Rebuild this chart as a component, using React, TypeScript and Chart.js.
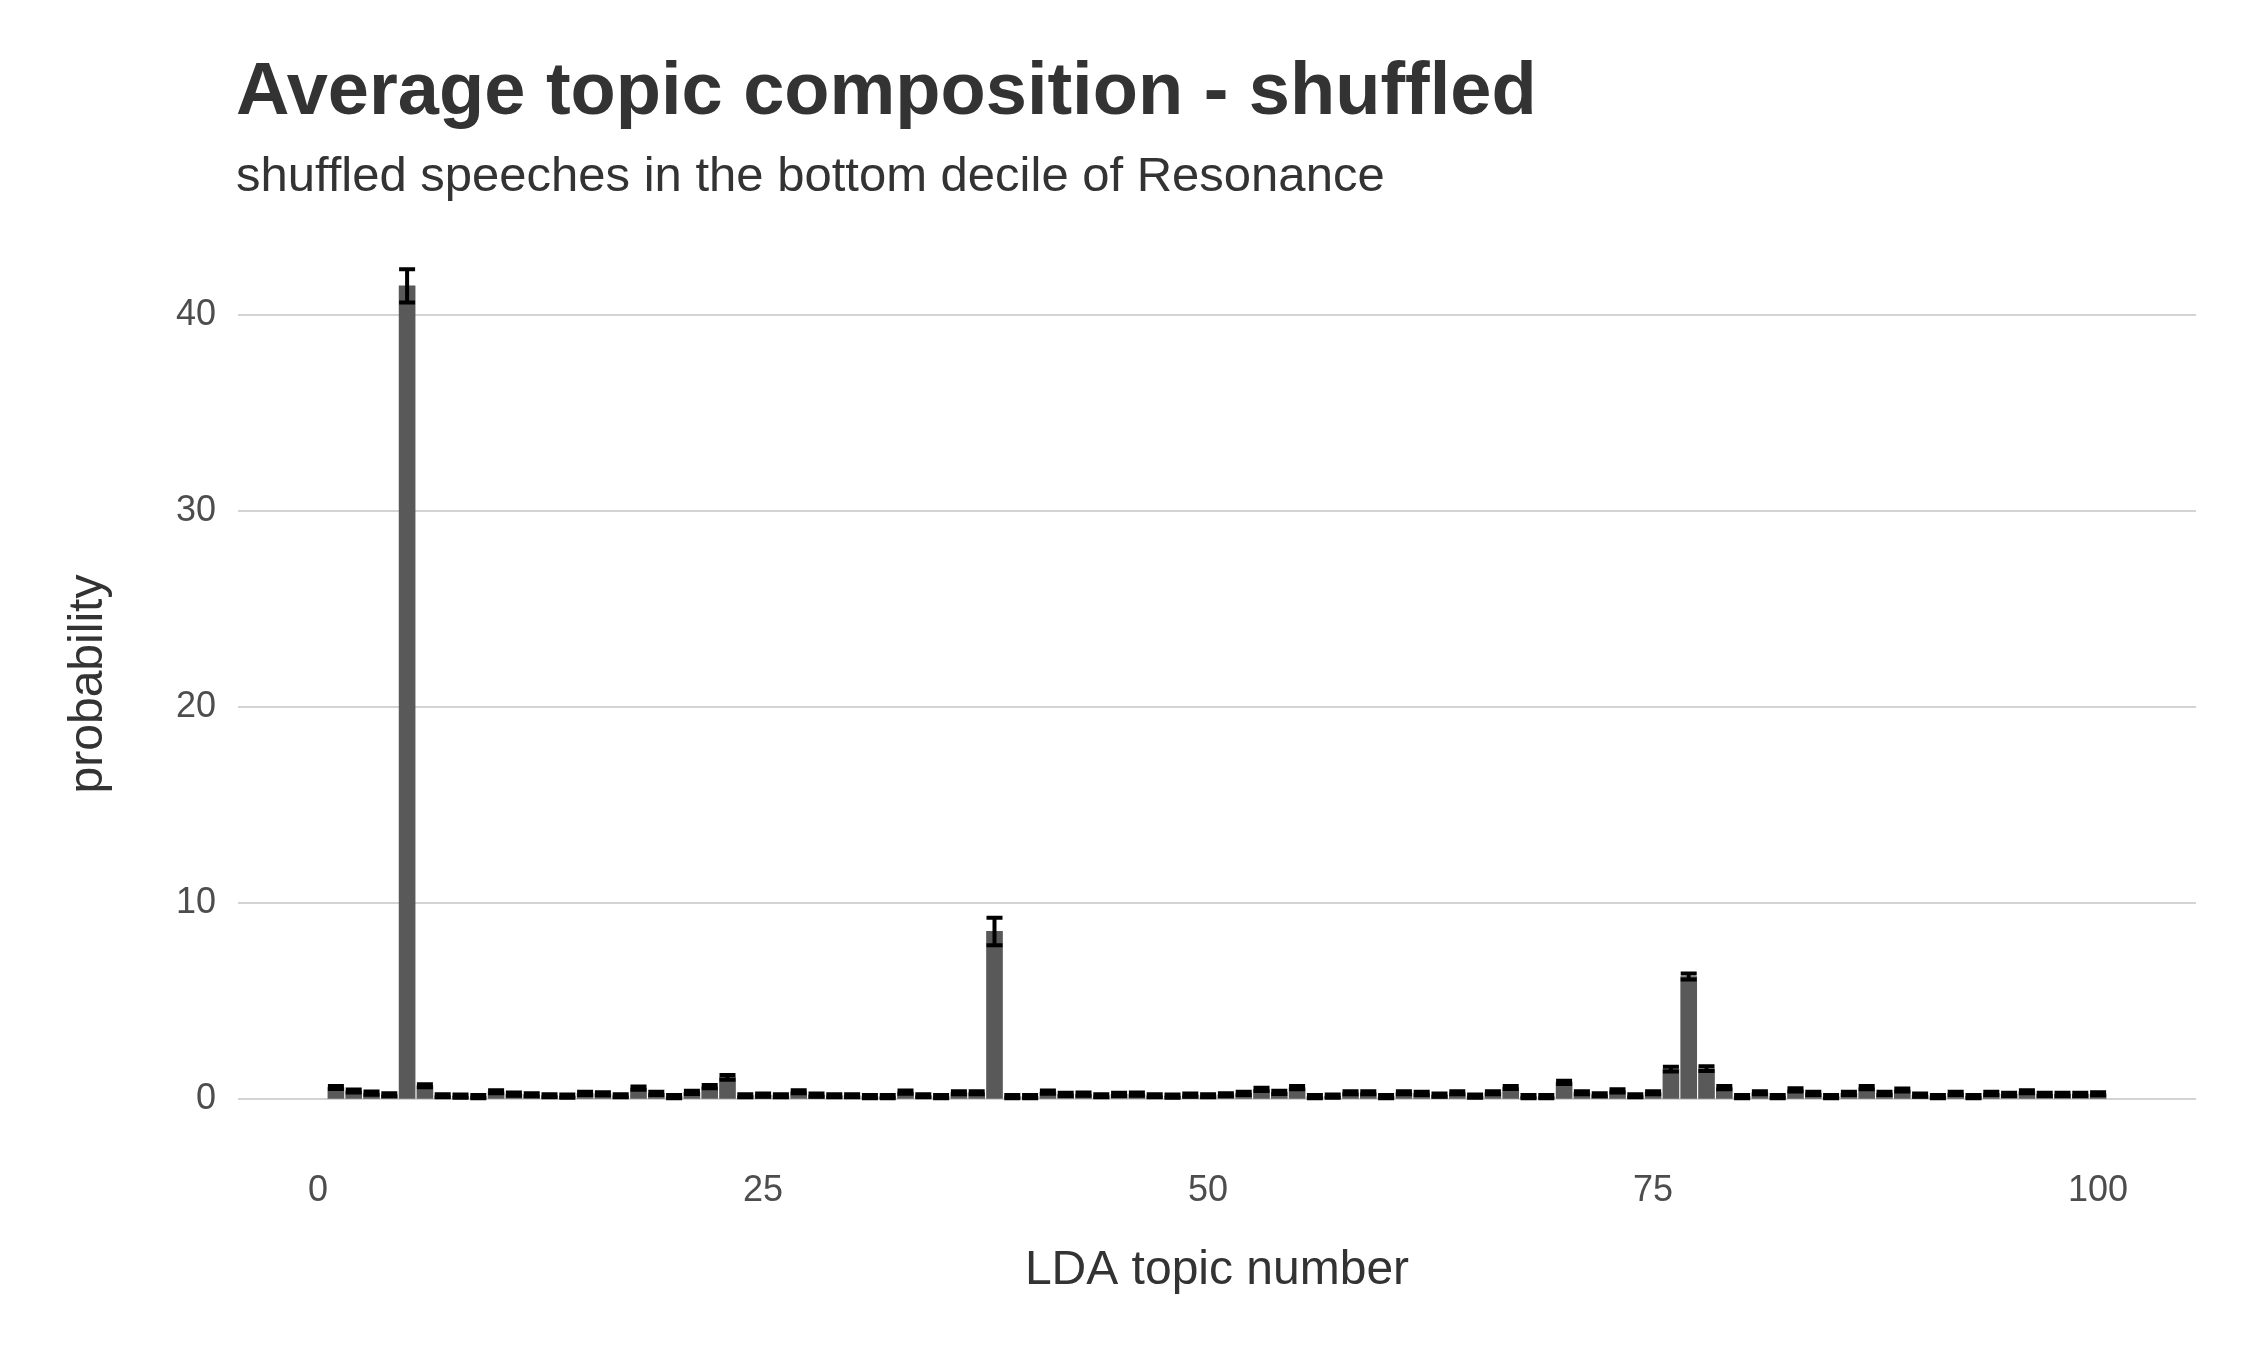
import React, { useEffect, useRef } from "react";
import { Chart, registerables } from "chart.js";
Chart.register(...registerables);

const topics: number[] = Array.from({ length: 100 }, (_, i) => i + 1);
const probability: number[] = [
  0.61, 0.43, 0.32, 0.24, 41.5, 0.70, 0.19, 0.17, 0.14, 0.39,
  0.27, 0.24, 0.19, 0.17, 0.31, 0.29, 0.19, 0.58, 0.31, 0.14,
  0.36, 0.65, 1.13, 0.19, 0.22, 0.19, 0.39, 0.22, 0.19, 0.19,
  0.14, 0.14, 0.37, 0.19, 0.14, 0.34, 0.34, 8.57, 0.14, 0.14,
  0.37, 0.26, 0.27, 0.19, 0.26, 0.27, 0.19, 0.17, 0.22, 0.19,
  0.24, 0.31, 0.51, 0.36, 0.60, 0.14, 0.17, 0.34, 0.34, 0.14,
  0.34, 0.31, 0.22, 0.34, 0.17, 0.34, 0.61, 0.14, 0.14, 0.87,
  0.34, 0.24, 0.44, 0.19, 0.34, 1.55, 6.27, 1.57, 0.60, 0.14,
  0.34, 0.14, 0.49, 0.31, 0.14, 0.31, 0.60, 0.31, 0.48, 0.22,
  0.14, 0.31, 0.14, 0.31, 0.26, 0.39, 0.26, 0.26, 0.26, 0.29,
];
const errorHalf: number[] = probability.map((v) =>
  v > 40 ? 0.85 : v > 8 ? 0.7 : v > 5 ? 0.15 : v > 1 ? 0.12 : 0.08
);
const xTicks = [0, 25, 50, 75, 100];
const yTicks = [0, 10, 20, 30, 40];

const FONT = "'Liberation Sans', Arial, sans-serif";

export default function App() {
  const ref = useRef<HTMLCanvasElement>(null);
  useEffect(() => {
    document.body.style.margin = "0";
    const errPlugin = {
      id: "errbars",
      afterDatasetsDraw(chart: any) {
        const ctx = chart.ctx;
        const xs = chart.scales.x;
        const ys = chart.scales.y;
        ctx.save();
        ctx.strokeStyle = "#000";
        ctx.lineWidth = 4;
        ctx.lineCap = "butt";
        topics.forEach((t, i) => {
          const x = xs.getPixelForValue(t);
          const top = ys.getPixelForValue(probability[i] + errorHalf[i]);
          const bot = ys.getPixelForValue(probability[i] - errorHalf[i]);
          ctx.beginPath();
          ctx.moveTo(x, top);
          ctx.lineTo(x, bot);
          ctx.moveTo(x - 8, top);
          ctx.lineTo(x + 8, top);
          ctx.moveTo(x - 8, bot);
          ctx.lineTo(x + 8, bot);
          ctx.stroke();
        });
        ctx.restore();
      },
    };
    const chart = new Chart(ref.current!, {
      type: "bar",
      data: {
        datasets: [
          {
            data: topics.map((t, i) => ({ x: t, y: probability[i] })),
            backgroundColor: "#595959",
            barThickness: 16,
          },
        ],
      },
      plugins: [errPlugin],
      options: {
        animation: false,
        responsive: false,
        devicePixelRatio: 1,
        layout: { padding: { top: 227, right: 50, left: 0, bottom: 0 } },
        plugins: { legend: { display: false }, tooltip: { enabled: false } },
        scales: {
          x: {
            type: "linear",
            offset: false,
            min: -4.5,
            max: 105.5,
            afterBuildTicks: (s: any) => { s.ticks = xTicks.map((v) => ({ value: v })); },
            afterFit: (s: any) => { s.height = 209; },
            grid: { display: false },
            border: { display: false },
            ticks: { color: "#4d4d4d", font: { family: FONT, size: 36 }, padding: 20, maxRotation: 0 },
            title: { display: true, text: "LDA topic number", color: "#333", font: { family: FONT, size: 48 }, padding: { top: 0, bottom: 50 } },
          },
          y: {
            min: -2.12,
            max: 44.5,
            afterBuildTicks: (s: any) => { s.ticks = yTicks.map((v) => ({ value: v })); },
            afterFit: (s: any) => { s.width = 238; },
            grid: { color: "#d3d3d3", lineWidth: 2, drawTicks: false },
            border: { display: false },
            ticks: { color: "#4d4d4d", font: { family: FONT, size: 36 }, padding: 22 },
            title: { display: true, text: "probability", color: "#333", font: { family: FONT, size: 48 }, padding: { top: 60, bottom: 0 } },
          },
        },
      },
    });
    return () => chart.destroy();
  }, []);
  return (
    <div style={{ position: "relative", width: 2246, height: 1350, background: "#fff", fontFamily: FONT }}>
      <div style={{ position: "absolute", left: 236, top: 46, fontSize: 74, fontWeight: "bold", color: "#333" }}>
        Average topic composition - shuffled
      </div>
      <div style={{ position: "absolute", left: 236, top: 146, fontSize: 49, color: "#333" }}>
        shuffled speeches in the bottom decile of Resonance
      </div>
      <canvas ref={ref} width={2246} height={1350} style={{ display: "block" }} />
    </div>
  );
}
